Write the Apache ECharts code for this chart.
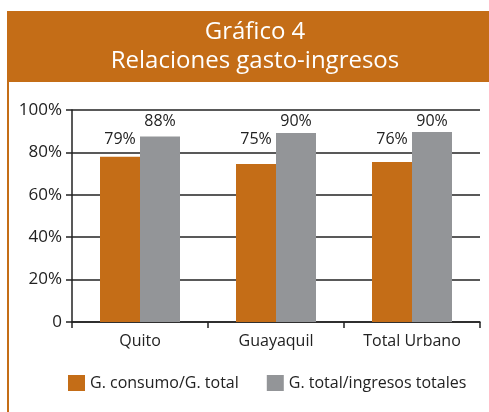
<!DOCTYPE html>
<html>
<head>
<meta charset="utf-8">
<script src="https://cdn.jsdelivr.net/npm/echarts@6/dist/echarts.min.js"></script>
<style>
  html, body { margin: 0; padding: 0; background: #fff; }
  #main { width: 489px; height: 412px; }
</style>
</head>
<body>
<div id="main"></div>
<script>
// chart data
let categories = ['Quito', 'Guayaquil', 'Total Urbano'];
let consumoValues = [78, 74.5, 75.5];
let totalValues = [87.5, 89.2, 89.6];
let consumoLabels = ['79%', '75%', '76%'];
let totalLabels = ['88%', '90%', '90%'];
let seriesNames = ['G. consumo/G. total', 'G. total/ingresos totales'];
let yTicks = [0, 20, 40, 60, 80, 100];

let orange = '#C46D17';
let grey = '#939598';
let font = 'Open Sans';

// in the original, the labels of each series sit on one line, not at a fixed gap above the bar
let pxPerUnit = 212 / 100;
function labelItems(values, labels, level) {
    return values.map(function (v, i) {
        return {
            value: v,
            label: { distance: (level - v) * pxPerUnit, formatter: labels[i] }
        };
    });
}

let myChart = echarts.init(document.getElementById('main'));
let option = {
    animation: false,
    textStyle: { fontFamily: font },
    graphic: [
        {
            type: 'rect',
            shape: { x: 7, y: 11, width: 482, height: 71 },
            style: { fill: orange }
        },
        {
            type: 'rect',
            shape: { x: 7, y: 82, width: 2, height: 330 },
            style: { fill: orange }
        }
    ],
    title: {
        text: 'Gráfico 4\nRelaciones gasto-ingresos',
        left: 250,
        textAlign: 'center',
        top: 13,
        textStyle: {
            color: '#fff',
            fontSize: 24,
            fontWeight: 'normal',
            lineHeight: 29,
            fontFamily: font
        }
    },
    legend: {
        left: 63,
        top: 370,
        itemWidth: 17,
        itemHeight: 16,
        itemGap: 28,
        icon: 'rect',
        textStyle: { fontSize: 16, color: '#222', fontFamily: font },
        data: seriesNames
    },
    grid: {
        left: 72,
        right: 9,
        top: 110,
        bottom: 90
    },
    xAxis: {
        type: 'category',
        data: categories,
        axisLine: { lineStyle: { color: '#222', width: 1.5 } },
        axisTick: { show: true, length: 6, lineStyle: { color: '#222', width: 1.5 } },
        axisLabel: { fontSize: 16, color: '#222', margin: 11, fontFamily: font }
    },
    yAxis: {
        type: 'value',
        min: yTicks[0],
        max: yTicks[yTicks.length - 1],
        interval: 20,
        axisLine: { show: true, lineStyle: { color: '#222', width: 1.5 } },
        axisTick: { show: true, length: 6, lineStyle: { color: '#222', width: 1.5 } },
        splitLine: { lineStyle: { color: '#222', width: 1.5 } },
        axisLabel: {
            fontSize: 17,
            color: '#222',
            margin: 10,
            fontFamily: font,
            formatter: function (v) { return v === 0 ? '0' : v + '%'; }
        }
    },
    series: [
        {
            name: seriesNames[0],
            type: 'bar',
            data: labelItems(consumoValues, consumoLabels, 82.2),
            barWidth: 40,
            barGap: '0%',
            itemStyle: { color: orange },
            label: {
                show: true,
                position: 'top',
                fontSize: 16,
                color: '#222',
                fontFamily: font
            }
        },
        {
            name: seriesNames[1],
            type: 'bar',
            data: labelItems(totalValues, totalLabels, 90.8),
            barWidth: 40,
            barGap: '0%',
            itemStyle: { color: grey },
            label: {
                show: true,
                position: 'top',
                fontSize: 16,
                color: '#222',
                fontFamily: font
            }
        }
    ]
};
myChart.setOption(option);
</script>
</body>
</html>
